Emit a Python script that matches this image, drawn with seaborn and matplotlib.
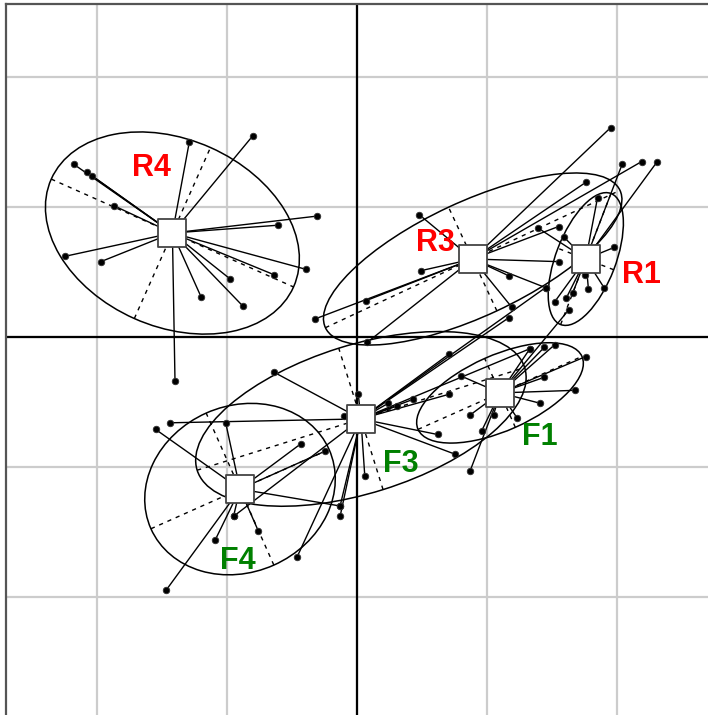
import numpy as np
import pandas as pd
import matplotlib
matplotlib.use("Agg")
import matplotlib.pyplot as plt
from matplotlib.patches import Ellipse
import seaborn as sns

# group order and colours
groups = ["R4", "R3", "R1", "F1", "F3", "F4"]
label_colors = {"R4": "red", "R3": "red", "R1": "red",
                "F1": "green", "F3": "green", "F4": "green"}

# individual scores (axis 1, axis 2) per group
R4_x = [-0.80, -1.29, -2.18, -2.08, -2.04, -1.87, -0.31, -0.61, -2.25, -1.97, -0.39, -0.64, -0.98, -1.20, -0.88, -1.40]
R4_y = [1.55, 1.50, 1.33, 1.27, 1.24, 1.01, 0.93, 0.86, 0.62, 0.58, 0.52, 0.48, 0.45, 0.31, 0.24, -0.34]
R3_x = [1.95, 2.19, 1.76, 0.48, 1.55, 0.49, 1.55, 1.17, 1.45, 1.19, 0.07, -0.32, 0.08]
R3_y = [1.61, 1.35, 1.19, 0.94, 0.85, 0.51, 0.58, 0.47, 0.38, 0.23, 0.28, 0.14, -0.04]
R1_x = [2.04, 2.31, 1.85, 1.39, 1.59, 1.98, 1.75, 1.78, 1.90, 1.66, 1.61, 1.52]
R1_y = [1.33, 1.35, 1.07, 0.84, 0.77, 0.69, 0.48, 0.37, 0.38, 0.34, 0.30, 0.27]
F1_x = [0.80, 1.44, 1.52, 1.76, 1.44, 1.68, 1.41, 0.87, 1.05, 1.23, 0.96, 0.87, 1.63, 1.33]
F1_y = [-0.30, -0.08, -0.06, -0.15, -0.31, -0.41, -0.51, -0.60, -0.60, -0.62, -0.72, -1.03, 0.21, -0.09]
F3_x = [-0.64, -1.44, -0.10, 0.01, 0.06, -0.13, -0.13, -0.46, -0.95, 0.24, 0.31, 0.43, 0.71, 0.71, 0.62, 0.75, 1.33, 1.45, 1.17]
F3_y = [-0.27, -0.66, -0.61, -0.44, -1.07, -1.30, -1.38, -1.69, -1.38, -0.51, -0.53, -0.48, -0.13, -0.44, -0.75, -0.90, -0.09, 0.38, 0.15]
F4_x = [-1.01, -1.55, -0.43, -0.25, -0.13, -0.95, -0.76, -1.09, -1.47]
F4_y = [-0.66, -0.71, -0.82, -0.88, -1.30, -1.38, -1.49, -1.56, -1.95]

# class centroids
cent_x = [-1.42, 0.89, 1.76, 1.10, 0.03, -0.90]
cent_y = [0.80, 0.60, 0.60, -0.43, -0.63, -1.17]

# ellipse half-axes and angle (degrees)
ell_a = [1.02, 1.25, 0.54, 0.69, 1.32, 0.75]
ell_b = [0.72, 0.44, 0.23, 0.29, 0.57, 0.64]
ell_angle = [-24, 25, 69, 24, 17.4, 24]

# label positions
lab_x = [-1.58, 0.60, 2.19, 1.41, 0.34, -0.92]
lab_y = [1.30, 0.72, 0.48, -0.77, -0.98, -1.72]

xs = {"R4": R4_x, "R3": R3_x, "R1": R1_x, "F1": F1_x, "F3": F3_x, "F4": F4_x}
ys = {"R4": R4_y, "R3": R3_y, "R1": R1_y, "F1": F1_y, "F3": F3_y, "F4": F4_y}

pts = pd.concat([pd.DataFrame({"x": xs[g], "y": ys[g], "group": g}) for g in groups],
                ignore_index=True)
cent = pd.DataFrame({"group": groups, "cx": cent_x, "cy": cent_y,
                     "a": ell_a, "b": ell_b, "angle": ell_angle,
                     "lx": lab_x, "ly": lab_y})
pts = pts.merge(cent[["group", "cx", "cy"]], on="group")

sns.set_style("white")
plt.rcParams['font.family'] = ['Liberation Sans', 'DejaVu Sans']

fig = plt.figure(figsize=(7.08, 7.15), dpi=100)
ax = fig.add_axes([6 / 708, 0, 1 - 6 / 708, 1 - 4 / 715])
ax.set_xlim(-2.7, 2.7)
ax.set_ylim(-2.908, 2.562)

# grid
ax.set_xticks([-2, -1, 0, 1, 2])
ax.set_yticks([-2, -1, 0, 1, 2])
ax.grid(True, color="#cccccc", lw=1.6, zorder=0)
ax.tick_params(left=False, bottom=False, labelleft=False, labelbottom=False)
ax.axhline(0, color="black", lw=1.6, zorder=1)
ax.axvline(0, color="black", lw=1.6, zorder=1)
for side in ["right", "bottom"]:
    ax.spines[side].set_visible(False)
for side in ["left", "top"]:
    ax.spines[side].set_color("#555555")
    ax.spines[side].set_linewidth(1.6)

# ellipses and their axes
for _, r in cent.iterrows():
    ax.add_patch(Ellipse((r.cx, r.cy), 2 * r.a, 2 * r.b, angle=r.angle,
                         fill=False, ec="black", lw=1.1, zorder=2))
    t = np.deg2rad(r.angle)
    for half, th in [(r.a, t), (r.b, t + np.pi / 2)]:
        dx, dy = half * np.cos(th), half * np.sin(th)
        ax.plot([r.cx - dx, r.cx + dx], [r.cy - dy, r.cy + dy],
                color="black", lw=1.0, ls=(0, (3, 3.5)), zorder=2)

# stars: segments from centroid to each point
for _, p in pts.iterrows():
    ax.plot([p.cx, p.x], [p.cy, p.y], color="black", lw=1.0, zorder=3)

sns.scatterplot(data=pts, x="x", y="y", color="black", s=22, edgecolor="#333333",
                linewidth=0.6, ax=ax, zorder=4, legend=False)
sns.scatterplot(data=cent, x="cx", y="cy", marker="s", s=390, color="white",
                edgecolor="#444444", linewidth=1.3, ax=ax, zorder=5, legend=False)

for _, r in cent.iterrows():
    ax.text(r.lx, r.ly, r.group, color=label_colors[r.group], fontsize=22,
            fontweight="bold", ha="center", va="center", zorder=6)

ax.set_xlabel("")
ax.set_ylabel("")
fig.savefig("out.png", dpi=100)
